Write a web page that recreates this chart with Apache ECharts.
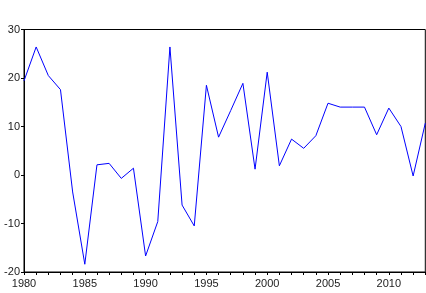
<!DOCTYPE html>
<html><head><meta charset="utf-8">
<script src="https://cdn.jsdelivr.net/npm/echarts@6/dist/echarts.min.js"></script>
<style>html,body{margin:0;padding:0;background:#fff}#c{width:426px;height:293px}</style>
</head><body><div id="c"></div>
<script>
const years = [1980,1981,1982,1983,1984,1985,1986,1987,1988,1989,1990,1991,1992,1993,1994,1995,1996,1997,1998,1999,2000,2001,2002,2003,2004,2005,2006,2007,2008,2009,2010,2011,2012,2013];
const values = [19.4,26.4,20.5,17.6,-3.5,-18.4,2.1,2.4,-0.7,1.4,-16.7,-9.6,26.4,-6.2,-10.5,18.5,7.8,13.3,18.9,1.2,21.2,1.9,7.4,5.5,8.1,14.8,14.0,14.0,14.0,8.3,13.8,10.0,-0.2,10.7];
const yTicks = {min:-20, max:30, interval:10};
const chart = echarts.init(document.getElementById('c'), null, {renderer:'canvas'});
const font = 'Arial, "Liberation Sans", Helvetica, sans-serif';
chart.setOption({
  animation:false,
  grid:{left:24, top:29.5, right:0.7, bottom:21, show:true, borderColor:'#000', borderWidth:1, backgroundColor:'transparent'},
  xAxis:{type:'category', data:years.map(String), boundaryGap:false,
    axisLine:{onZero:false, lineStyle:{color:'#000', width:1}},
    axisTick:{interval:0, length:3, lineStyle:{color:'#000'}},
    axisLabel:{interval:4, color:'#222', fontSize:11, fontFamily:font, margin:6},
    splitLine:{show:false}},
  yAxis:{type:'value', min:yTicks.min, max:yTicks.max, interval:yTicks.interval,
    axisLine:{show:true, onZero:false, lineStyle:{color:'#000', width:1}},
    axisTick:{show:true, length:3, lineStyle:{color:'#000'}},
    axisLabel:{color:'#222', fontSize:11, fontFamily:font, margin:4},
    splitLine:{show:false}},
  series:[{type:'line', data:values, showSymbol:false, symbol:'none',
    lineStyle:{color:'#0000FF', width:1}}]
});
</script></body></html>
